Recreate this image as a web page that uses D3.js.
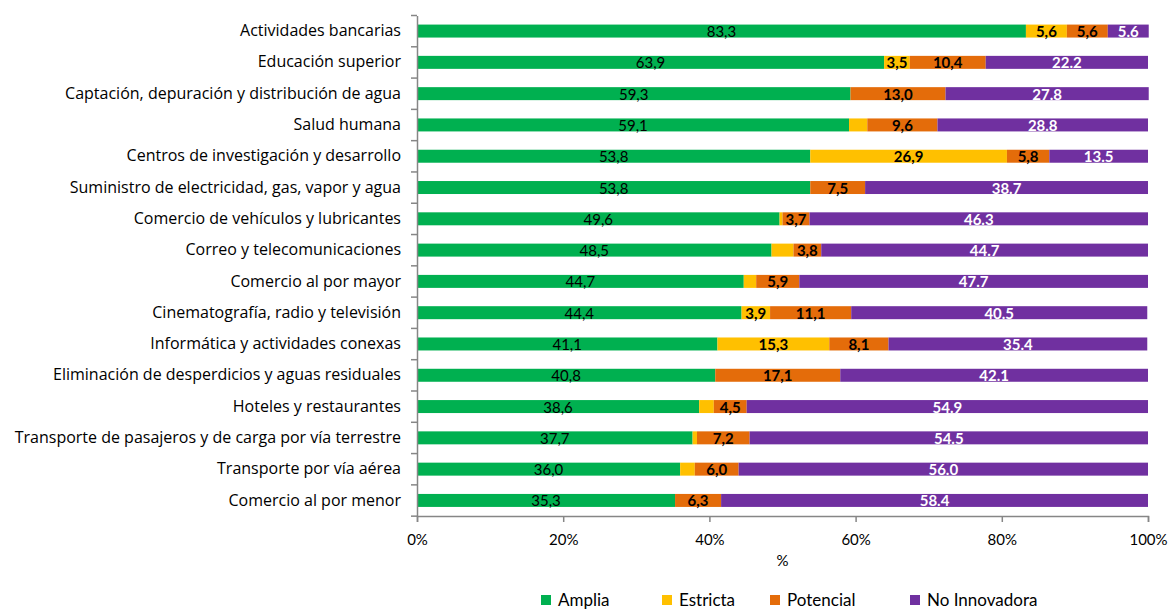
<!DOCTYPE html>
<html><head><meta charset="utf-8">
<script src="https://cdn.jsdelivr.net/npm/d3@7"></script>
<style>body{margin:0;background:#fff;} svg{display:block;}</style>
</head><body>
<script>
const categories = [
  "Actividades bancarias",
  "Educación superior",
  "Captación, depuración y distribución de agua",
  "Salud humana",
  "Centros de investigación y desarrollo",
  "Suministro de electricidad, gas, vapor y agua",
  "Comercio de vehículos y lubricantes",
  "Correo y telecomunicaciones",
  "Comercio al por mayor",
  "Cinematografía, radio y televisión ",
  "Informática y actividades conexas",
  "Eliminación de desperdicios y aguas residuales",
  "Hoteles y restaurantes",
  "Transporte de pasajeros y de carga por vía terrestre",
  "Transporte por vía aérea",
  "Comercio al por menor"
];
const amplia       = [83.3, 63.9, 59.3, 59.1, 53.8, 53.8, 49.6, 48.5, 44.7, 44.4, 41.1, 40.8, 38.6, 37.7, 36.0, 35.3];
const estricta     = [5.6, 3.5, 0, 2.5, 26.9, 0, 0.4, 3.0, 1.7, 3.9, 15.3, 0, 2.0, 0.6, 2.0, 0];
const potencial    = [5.6, 10.4, 13.0, 9.6, 5.8, 7.5, 3.7, 3.8, 5.9, 11.1, 8.1, 17.1, 4.5, 7.2, 6.0, 6.3];
const noInnovadora = [5.6, 22.2, 27.8, 28.8, 13.5, 38.7, 46.3, 44.7, 47.7, 40.5, 35.4, 42.1, 54.9, 54.5, 56.0, 58.4];
const seriesNames  = ["Amplia", "Estricta", "Potencial", "No Innovadora"];
const xTicks       = [0, 20, 40, 60, 80, 100];
const xAxisTitle   = "%";

const colors = ["#00B050", "#FFC000", "#E46C0A", "#7030A0"];
const W = 1173, H = 610;
const FONT = "Lato, 'Liberation Sans', sans-serif";
const CATFONT = "'Open Sans', Lato, sans-serif";

const svg = d3.select("body").append("svg").attr("width", W).attr("height", H)
  .style("font-family", FONT);

const m = {left: 417, right: 1148, top: 15.5, bottom: 516};
const x = d3.scaleLinear().domain([0, 100]).range([m.left, m.right]);
const y = d3.scaleBand().domain(categories).range([m.top, m.bottom]).paddingInner(0.585).paddingOuter(0.29);

const rows = categories.map((c, i) => ({cat: c, Amplia: amplia[i], Estricta: estricta[i], Potencial: potencial[i], "No Innovadora": noInnovadora[i]}));
const stacked = d3.stack().keys(seriesNames)(rows);

const g = svg.append("g");
stacked.forEach((s, si) => {
  g.append("g").selectAll("rect").data(s).join("rect")
    .attr("x", d => x(d[0]))
    .attr("y", d => y(d.data.cat))
    .attr("width", d => Math.max(0, x(d[1]) - x(d[0])))
    .attr("height", y.bandwidth())
    .attr("fill", colors[si]);
});

// labels
stacked.forEach((s, si) => {
  g.append("g").selectAll("text").data(s.filter(d => (d[1] - d[0]) >= 3.5)).join("text")
    .attr("x", d => (x(d[0]) + x(d[1])) / 2)
    .attr("y", d => y(d.data.cat) + y.bandwidth() / 2 + 6)
    .attr("text-anchor", "middle")
    .attr("font-size", 15)
    .attr("font-weight", si === 0 ? "normal" : "bold")
    .attr("fill", si === 3 ? "#ffffff" : "#000000")
    .text(d => {
      const v = (d[1] - d[0]).toFixed(1);
      return si === 3 ? v : v.replace(".", ",");
    });
});

// x axis
const xAxis = d3.axisBottom(x).tickValues(xTicks).tickFormat(d => d + "%").tickSize(6).tickPadding(12);
const gx = svg.append("g").attr("transform", `translate(0,${m.bottom})`).call(xAxis);
gx.select(".domain").attr("stroke", "#868686").attr("stroke-width", 1.5);
gx.selectAll(".tick line").attr("stroke", "#868686").attr("stroke-width", 1.5);
gx.selectAll(".tick text").attr("font-size", 15).attr("fill", "#000").style("font-family", FONT);

// y axis
const yAxis = d3.axisLeft(y).tickSize(0).tickPadding(16);
const gy = svg.append("g").attr("transform", `translate(${m.left},0)`).call(yAxis);
gy.select(".domain").attr("stroke", "#868686").attr("stroke-width", 1.5);
gy.selectAll(".tick text").attr("font-size", 16).attr("fill", "#000").style("font-family", CATFONT);
// boundary ticks between categories
const step = y.step();
const bounds = d3.range(categories.length + 1).map(i => m.top + i * step);
gy.selectAll(".btick").data(bounds).join("line").attr("class", "btick")
  .attr("x1", -6).attr("x2", 0)
  .attr("y1", d => d).attr("y2", d => d)
  .attr("stroke", "#868686").attr("stroke-width", 1.5);

// axis title
svg.append("text").attr("x", (m.left + m.right) / 2).attr("y", 566)
  .attr("text-anchor", "middle").attr("font-size", 15).text(xAxisTitle);

// legend
const legendX = [541, 662, 770, 910];
const lg = svg.append("g");
seriesNames.forEach((n, i) => {
  lg.append("rect").attr("x", legendX[i]).attr("y", 595).attr("width", 10).attr("height", 10).attr("fill", colors[i]);
  lg.append("text").attr("x", legendX[i] + 17).attr("y", 606).attr("font-size", 17).text(n);
});
</script>
</body></html>
